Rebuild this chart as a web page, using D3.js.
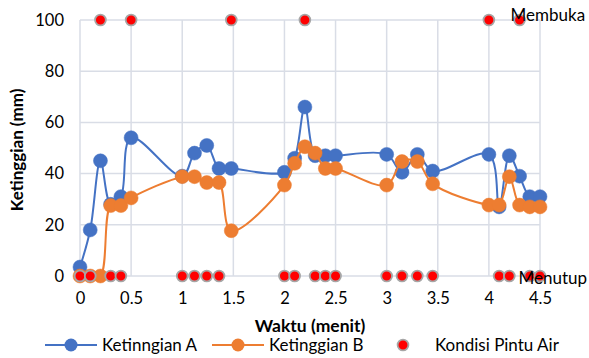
<!DOCTYPE html>
<html>
<head>
<meta charset="utf-8">
<script src="https://cdn.jsdelivr.net/npm/d3@7"></script>
<style>
  body { margin: 0; background: #fff; }
  text { font-family: Lato, "Open Sans", sans-serif; fill: #000; }
</style>
</head>
<body>
<div id="chart"></div>
<script>
// time points (menit)
const waktu = [0, 0.1, 0.2, 0.3, 0.4, 0.5, 1.0, 1.12, 1.24, 1.36, 1.48, 2.0, 2.1, 2.2, 2.3, 2.4, 2.5,
  3.0, 3.15, 3.3, 3.45, 4.0, 4.1, 4.2, 4.3, 4.4, 4.5];
const ketinggianA = [3.5, 18, 45, 28, 31, 54, 39, 48, 51, 42, 42, 40.5, 46, 66, 47, 47, 47,
  47.5, 40.5, 47.5, 41, 47.5, 27, 47, 39, 31, 31];
const ketinggianB = [0, 0, 0, 27.5, 27.5, 30.5, 38.8, 38.8, 36.5, 36.5, 17.7, 35.5, 44, 50.5, 48, 42, 42,
  35.5, 44.7, 44.7, 36, 27.7, 27.7, 38.8, 27.7, 27, 27];
const pintuAir = [0, 0, 100, 0, 0, 100, 0, 0, 0, 0, 100, 0, 0, 100, 0, 0, 0,
  0, 0, 0, 0, 100, 0, 0, 100, 0, 0];
const xTicks = [0, 0.5, 1, 1.5, 2, 2.5, 3, 3.5, 4, 4.5];
const yTicks = [0, 20, 40, 60, 80, 100];
const seriesNames = ['Ketinngian A', 'Ketinggian B', 'Kondisi Pintu Air'];

const width = 589;
const height = 358;
const margin = {top: 20, right: 49, bottom: 82, left: 80};
const innerW = width - margin.left - margin.right;
const innerH = height - margin.top - margin.bottom;

const blue = '#4472C4';
const orange = '#ED7D31';
const grid = '#d9dde6';

const svg = d3.select('#chart').append('svg')
  .attr('width', width)
  .attr('height', height);

const g = svg.append('g').attr('transform', `translate(${margin.left},${margin.top})`);

const x = d3.scaleLinear().domain([0, 4.5]).range([0, innerW]);
const y = d3.scaleLinear().domain([0, 100]).range([innerH, 0]);

// gridlines
g.append('g').selectAll('line').data(yTicks).join('line')
  .attr('x1', 0).attr('x2', innerW)
  .attr('y1', d => y(d)).attr('y2', d => y(d))
  .attr('stroke', grid).attr('stroke-width', 1.5);
g.append('g').selectAll('line').data(xTicks).join('line')
  .attr('x1', d => x(d)).attr('x2', d => x(d))
  .attr('y1', 0).attr('y2', innerH)
  .attr('stroke', grid).attr('stroke-width', 1.5);

// axes (labels only)
const xAxis = d3.axisBottom(x).tickValues(xTicks).tickSize(0).tickPadding(16)
  .tickFormat(d => d);
const yAxis = d3.axisLeft(y).tickValues(yTicks).tickSize(0).tickPadding(16);

g.append('g').attr('transform', `translate(0,${innerH})`).call(xAxis)
  .call(s => s.select('.domain').remove())
  .selectAll('text').style('font-size', '16.5px').attr('font-family', null);
g.append('g').call(yAxis)
  .call(s => s.select('.domain').remove())
  .selectAll('text').style('font-size', '16.5px').attr('font-family', null);

// axis titles
svg.append('text')
  .attr('x', 310).attr('y', 332)
  .attr('text-anchor', 'middle')
  .style('font-size', '17.5px').style('font-weight', 'bold')
  .text('Waktu (menit)');
svg.append('text')
  .attr('transform', 'translate(23,150) rotate(-90)')
  .attr('text-anchor', 'middle')
  .style('font-size', '17px').style('font-weight', 'bold')
  .text('Ketinggian (mm)');

const line = d3.line()
  .x(d => x(d[0]))
  .y(d => y(d[1]))
  .curve(d3.curveCatmullRom.alpha(0.5));

const seriesA = waktu.map((t, i) => [t, ketinggianA[i]]);
const seriesB = waktu.map((t, i) => [t, ketinggianB[i]]);
const seriesP = waktu.map((t, i) => [t, pintuAir[i]]);

function drawSeries(data, color) {
  g.append('path').datum(data)
    .attr('fill', 'none').attr('stroke', color).attr('stroke-width', 2)
    .attr('d', line);
  g.append('g').selectAll('circle').data(data).join('circle')
    .attr('cx', d => x(d[0])).attr('cy', d => y(d[1]))
    .attr('r', 7)
    .attr('fill', color)
    .attr('stroke', color).attr('stroke-width', 0.5);
}

drawSeries(seriesA, blue);
drawSeries(seriesB, orange);

g.append('g').selectAll('circle').data(seriesP).join('circle')
  .attr('cx', d => x(d[0])).attr('cy', d => y(d[1]))
  .attr('r', 5.4)
  .attr('fill', '#ff0000')
  .attr('stroke', '#a6a6a6').attr('stroke-width', 1.8);

// labels for door state
g.append('text')
  .attr('x', x(4.3) - 9).attr('y', y(100) + 1)
  .style('font-size', '17px')
  .text('Membuka');
g.append('text')
  .attr('x', x(4.29)).attr('y', y(0) + 8)
  .style('font-size', '17px')
  .text('Menutup');

// legend
const legend = svg.append('g').attr('transform', 'translate(0,345)');
const items = [
  {name: seriesNames[0], color: blue, x0: 45, type: 'line'},
  {name: seriesNames[1], color: orange, x0: 212, type: 'line'},
  {name: seriesNames[2], color: '#ff0000', x0: 378, type: 'dot'},
];
items.forEach(it => {
  const li = legend.append('g').attr('transform', `translate(${it.x0},0)`);
  if (it.type === 'line') {
    li.append('line').attr('x1', 0).attr('x2', 52).attr('y1', 0).attr('y2', 0)
      .attr('stroke', it.color).attr('stroke-width', 2);
    li.append('circle').attr('cx', 26).attr('cy', 0).attr('r', 6.5).attr('fill', it.color);
    li.append('text').attr('x', 57).attr('y', 6).style('font-size', '17px').text(it.name);
  } else {
    li.append('circle').attr('cx', 25).attr('cy', 0).attr('r', 5.4)
      .attr('fill', it.color).attr('stroke', '#a6a6a6').attr('stroke-width', 1.8);
    li.append('text').attr('x', 57).attr('y', 6).style('font-size', '17px').text(it.name);
  }
});
</script>
</body>
</html>
